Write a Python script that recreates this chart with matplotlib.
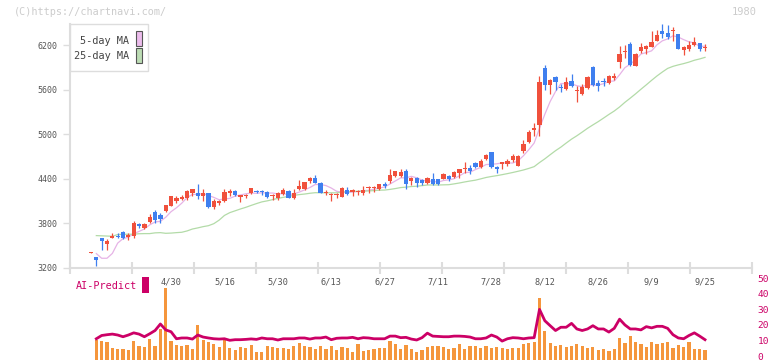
import numpy as np
import pandas as pd
import matplotlib
matplotlib.use('Agg')
import matplotlib.pyplot as plt
from matplotlib.patches import Rectangle
from matplotlib.transforms import blended_transform_factory

W, H = 772, 361

# daily candles (yen)
opens = [3400, 3340, 3595, 3517, 3598, 3630, 3675, 3617, 3620, 3787, 3730, 3820, 3945, 3905, 3962, 4030,
         4097, 4124, 4143, 4205, 4210, 4160, 4200, 4020, 4066, 4097, 4210, 4240, 4156, 4160, 4210,
         4232, 4226, 4215, 4170, 4134, 4188, 4233, 4134, 4256, 4256, 4368, 4404, 4346, 4211, 4175, 4175,
         4152, 4251, 4220, 4215, 4211, 4274, 4270, 4256, 4323, 4368, 4435, 4435, 4498, 4368, 4404, 4377,
         4337, 4390, 4390, 4399, 4440, 4426, 4476, 4530, 4538, 4610, 4556, 4660, 4758, 4556, 4597, 4592,
         4646, 4578, 4772, 4893, 5059, 5122, 5899, 5661, 5769, 5643, 5616, 5724, 5585, 5540, 5621, 5904,
         5688, 5724, 5693, 5756, 5971, 6110, 6223, 5926, 6128, 6151, 6178, 6263, 6398, 6367, 6389, 6358,
         6133, 6155, 6200, 6236, 6164]
highs = [3405, 3345, 3600, 3585, 3670, 3670, 3690, 3665, 3835, 3806, 3795, 3918, 3975, 3930, 4050, 4165,
         4165, 4180, 4250, 4260, 4330, 4260, 4210, 4130, 4115, 4265, 4255, 4245, 4180, 4190, 4280,
         4250, 4250, 4233, 4188, 4220, 4278, 4242, 4256, 4381, 4360, 4422, 4444, 4350, 4247, 4211, 4211,
         4282, 4292, 4256, 4247, 4296, 4296, 4300, 4330, 4355, 4525, 4507, 4525, 4525, 4422, 4422, 4390,
         4420, 4480, 4395, 4480, 4453, 4507, 4534, 4619, 4579, 4624, 4669, 4736, 4760, 4570, 4628, 4669,
         4727, 4715, 4929, 5064, 5153, 5783, 5940, 5747, 5783, 5679, 5774, 5818, 5648, 5679, 5792, 5917,
         5729, 5760, 5800, 5828, 6187, 6210, 6241, 6095, 6232, 6209, 6398, 6412, 6488, 6479, 6443, 6360,
         6196, 6263, 6317, 6240, 6214]
lows = [3395, 3220, 3435, 3435, 3595, 3605, 3580, 3570, 3605, 3740, 3720, 3795, 3805, 3800, 3955, 4025,
        4075, 4110, 4115, 4165, 4120, 4095, 4000, 3990, 4040, 4090, 4165, 4165, 4085, 4140, 4195,
        4200, 4180, 4143, 4112, 4112, 4175, 4134, 4121, 4242, 4250, 4337, 4337, 4205, 4180, 4098, 4143,
        4148, 4184, 4166, 4180, 4180, 4211, 4220, 4250, 4274, 4346, 4426, 4426, 4265, 4319, 4292, 4310,
        4330, 4319, 4319, 4390, 4363, 4413, 4413, 4480, 4458, 4547, 4547, 4651, 4550, 4471, 4525, 4570,
        4632, 4575, 4749, 4884, 4974, 4974, 5603, 5549, 5603, 5567, 5603, 5639, 5441, 5535, 5612, 5657,
        5580, 5657, 5684, 5738, 5895, 6030, 5926, 5920, 6097, 6084, 6174, 6254, 6299, 6290, 6254, 6150,
        6075, 6120, 6191, 6120, 6128]
closes = [3405, 3300, 3555, 3554, 3620, 3618, 3605, 3644, 3805, 3765, 3783, 3882, 3840, 3850, 4040, 4160,
          4143, 4151, 4228, 4255, 4165, 4200, 4020, 4097, 4097, 4215, 4240, 4175, 4174, 4175, 4268,
          4218, 4215, 4152, 4180, 4202, 4242, 4143, 4211, 4296, 4350, 4404, 4346, 4211, 4224, 4184, 4184,
          4278, 4197, 4251, 4224, 4247, 4292, 4280, 4323, 4301, 4444, 4498, 4489, 4323, 4404, 4346, 4346,
          4413, 4328, 4328, 4462, 4390, 4489, 4525, 4538, 4502, 4561, 4637, 4718, 4556, 4534, 4624, 4637,
          4704, 4713, 4875, 5032, 5082, 5702, 5661, 5738, 5702, 5621, 5706, 5648, 5603, 5634, 5769, 5666,
          5648, 5702, 5792, 5792, 6088, 6128, 5940, 6088, 6178, 6187, 6245, 6344, 6358, 6308, 6400, 6155,
          6173, 6209, 6241, 6151, 6182]

# lower panel: volume bars and AI-Predict line (right scale)
volume = [np.nan, 10.3, 9.4, 8.8, 5.2, 4.6, 4.6, 4.0, 9.6, 6.7, 5.9, 10.9, 6.5, 17.6, 43.9, 9.6,
          7.1, 6.5, 7.1, 4.6, 19.7, 10.3, 9.0, 7.6, 5.9, 10.3, 5.2, 4.0, 5.7, 5.2, 7.2, 2.6,
          2.5, 6.3, 5.9, 5.2, 5.2, 4.6, 6.7, 8.2, 6.7, 5.7, 4.6, 6.3, 4.6, 6.7, 4.0, 5.7,
          5.0, 2.5, 7.6, 3.4, 4.0, 4.6, 5.0, 5.2, 9.6, 7.6, 4.6, 6.9, 4.6, 2.5, 4.0, 5.5,
          6.3, 6.7, 5.7, 4.6, 5.0, 7.6, 4.6, 6.7, 6.3, 5.0, 6.3, 5.2, 5.7, 5.0, 4.8,
          5.0, 5.0, 7.6, 8.2, 8.8, 37.2, 16.4, 8.2, 6.5, 6.9, 5.9, 6.5, 7.6, 6.7, 5.0, 5.7,
          3.8, 4.6, 3.1, 4.6, 11.3, 8.2, 12.6, 8.8, 7.6, 6.1, 8.8, 7.6, 8.2, 8.8, 5.0, 6.9,
          6.1, 8.8, 4.4, 4.4, 3.8]
ai_predict = [np.nan, 11.1, 13.2, 13.7, 14.1, 13.5, 12.4, 13.5, 14.9, 14.1, 12.4, 14.3, 16.4, 20.6, 16.8, 15.6,
              11.1, 11.6, 11.6, 10.9, 13.5, 12.2, 11.6, 11.1, 10.9, 11.1, 10.1, 10.5, 10.5, 10.7, 11.0, 10.7,
              11.6, 11.1, 11.1, 10.3, 11.1, 11.1, 11.1, 11.6, 11.6, 10.9, 11.6, 11.6, 12.2, 10.5, 11.4, 11.6,
              11.6, 12.0, 11.1, 11.8, 11.6, 11.1, 11.1, 11.1, 12.8, 12.8, 11.8, 12.0, 10.9, 10.3, 11.8, 14.7,
              12.8, 12.6, 12.4, 12.4, 12.8, 12.8, 12.6, 12.2, 11.1, 11.1, 11.6, 13.5, 12.2, 9.6, 11.1,
              11.8, 11.6, 11.1, 11.6, 11.8, 30.0, 22.7, 19.5, 16.4, 18.5, 18.5, 21.0, 17.4, 16.4, 17.4, 19.5,
              17.4, 17.4, 15.4, 17.8, 23.7, 20.0, 17.4, 17.4, 16.8, 18.9, 18.1, 19.1, 19.1, 17.8, 13.7, 11.6,
              11.1, 13.2, 14.9, 12.8, 10.5]

# MA values at the start depend on days before the window, so read them off the chart
ma5_head = [3388, 3325, 3325, 3390]
ma25_head = [3631, 3628, 3625, 3622, 3645, 3649, 3649, 3650, 3656, 3658, 3658, 3668,
             3671, 3662, 3665, 3671, 3676, 3694, 3720, 3735, 3752, 3765, 3792, 3840]

date_pos = [15, 25, 35, 45, 55, 65, 75, 85, 95, 105, 115]
date_labels = ['4/30', '5/16', '5/30', '6/13', '6/27', '7/11', '7/28', '8/12', '8/26', '9/9', '9/25']
price_ticks = [3200, 3800, 4400, 5000, 5600, 6200]
predict_ticks = [0, 10, 20, 30, 40, 50]

df = pd.DataFrame({'open': opens, 'high': highs, 'low': lows, 'close': closes,
                   'volume': volume, 'ai': ai_predict})
df['ma5'] = df['close'].rolling(5).mean()
df.loc[1:4, 'ma5'] = ma5_head
df['ma25'] = df['close'].rolling(25).mean()
df.loc[1:24, 'ma25'] = ma25_head
x = np.arange(len(df))

RED = '#f0503c'
BLUE = '#3f7fef'
ORANGE = '#f5963c'
MAGENTA = '#cc0066'
GRID = '#dddddd'
MONO = 'DejaVu Sans Mono'


def fx(px):
    return px / W


def fy(py):
    return 1 - py / H


fig = plt.figure(figsize=(W / 100, H / 100), dpi=100)
ax2 = fig.add_axes([fx(70), fy(359.5), fx(752) - fx(70), fy(277) - fy(359.5)])
ax = fig.add_axes([fx(70), fy(267.5), fx(752) - fx(70), fy(24) - fy(267.5)])
ax.patch.set_alpha(0)
ax2.patch.set_alpha(0)

xlim = (-3.93, 123.8)

# moving averages
ax.plot(x, df['ma5'], color='#e6b3e6', lw=0.9, zorder=1)
ax.plot(x, df['ma25'], color='#b3dba8', lw=0.9, zorder=1)

# candles
up = df['close'] >= df['open']
colors = np.where(up, RED, BLUE)
ax.vlines(x, df['low'], df['high'], colors=colors, lw=0.9, zorder=2)
body_lo = np.minimum(df['open'], df['close'])
body_h = np.maximum((df['close'] - df['open']).abs(), 14)
ax.bar(x, body_h, bottom=body_lo, width=0.8, color=colors, lw=0, zorder=3)

ax.set_xlim(*xlim)
ax.set_ylim(3200, 6490)
for s in ['top', 'right']:
    ax.spines[s].set_visible(False)
for s in ['left', 'bottom']:
    ax.spines[s].set_color(GRID)
    ax.spines[s].set_linewidth(1.5)
ax.set_yticks(price_ticks)
ax.set_yticklabels([str(t) for t in price_ticks], fontsize=6, family=MONO, color='#555555')
ax.tick_params(axis='y', direction='out', length=5, width=1, color=GRID, pad=4)
ax.set_xticks(np.linspace(xlim[0], xlim[1], 12))
ax.set_xticklabels([])
ax.tick_params(axis='x', direction='inout', length=8, width=1.5, color=GRID)

trans = blended_transform_factory(ax.transData, ax.transAxes)
for p, lab in zip(date_pos, date_labels):
    ax.text(p, -0.06, lab, transform=trans, ha='center', va='center',
            fontsize=6.2, family=MONO, color='#555555', clip_on=False)

# lower panel
ax2.bar(x, df['volume'] + 2.25, bottom=-2.25, width=0.6, color=ORANGE, lw=0, zorder=1)
ax2.plot(x, df['ai'], color=MAGENTA, lw=2, zorder=2)
ax2.set_xlim(*xlim)
ax2.set_ylim(-2.25, 50.84)
for s in ax2.spines.values():
    s.set_visible(False)
ax2.set_xticks([])
ax2.yaxis.tick_right()
ax2.set_yticks(predict_ticks)
ax2.set_yticklabels([str(t) for t in predict_ticks], fontsize=6.8, family=MONO, color=MAGENTA)
ax2.tick_params(axis='y', length=0, pad=4)

# legend box
fig.patches.append(Rectangle((fx(70.3), fy(71.3)), fx(148.3) - fx(70.3), fy(24) - fy(71.3),
                             transform=fig.transFigure, facecolor='white', edgecolor=GRID, lw=1, zorder=5))
fig.text(fx(129.5), fy(41), '5-day MA', ha='right', va='center', fontsize=7.4, family=MONO,
         color='#444444', zorder=6)
fig.text(fx(129.5), fy(56), '25-day MA', ha='right', va='center', fontsize=7.4, family=MONO,
         color='#444444', zorder=6)
fig.patches.append(Rectangle((fx(136.3), fy(46.3)), fx(142.3) - fx(136.3), fy(31.3) - fy(46.3),
                             transform=fig.transFigure, facecolor='#ecbcec', edgecolor='#555555', lw=0.8, zorder=6))
fig.patches.append(Rectangle((fx(136.3), fy(63.3)), fx(142.3) - fx(136.3), fy(48.3) - fy(63.3),
                             transform=fig.transFigure, facecolor='#bcdcb4', edgecolor='#555555', lw=0.8, zorder=6))

# AI-Predict tag
fig.text(fx(76), fy(286), 'AI-Predict', ha='left', va='center', fontsize=7.3, family=MONO, color=MAGENTA)
fig.patches.append(Rectangle((fx(142.3), fy(292.7)), fx(148.7) - fx(142.3), fy(277.3) - fy(292.7),
                             transform=fig.transFigure, facecolor=MAGENTA, edgecolor='none'))

# watermarks
fig.text(fx(14), fy(12), '(C)https://chartnavi.com/', ha='left', va='center', fontsize=7.3,
         family=MONO, color='#cccccc')
fig.text(fx(757), fy(12), '1980', ha='right', va='center', fontsize=7.5, family=MONO, color='#cccccc')

fig.savefig('out.png', dpi=100)
